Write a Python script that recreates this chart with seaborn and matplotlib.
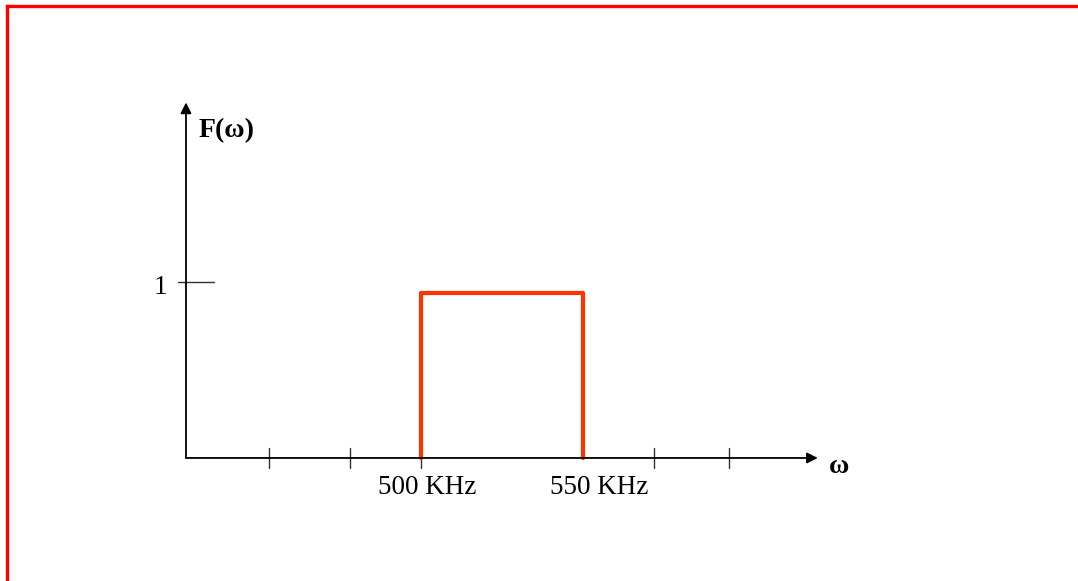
import matplotlib
matplotlib.use("Agg")
import matplotlib.pyplot as plt
import seaborn as sns
import pandas as pd
from matplotlib.lines import Line2D

sns.set_theme(style="white")
plt.rcParams['font.family'] = ['Liberation Serif', 'DejaVu Serif']
plt.rcParams['text.color'] = 'black'

# ---- data (frequency in kHz, amplitude) ----
band_edges = [500, 550]          # passband edges, kHz
band_amplitude = 0.94            # height of the passband
tick_freqs = [453, 478, 500, 572, 595]   # visible x-axis tick marks, kHz
tick_labels = {500: "500 KHz", 550: "550 KHz"}
label_offsets = {500: 2, 550: 5}
y_tick_value = 1
y_label = "F(ω)"
x_label = "ω"

# axis extents (data units)
x_origin, x_end = 427.5, 622.5
y_top = 2.02

df = pd.DataFrame({
    "freq": [band_edges[0], band_edges[0], band_edges[1], band_edges[1]],
    "amp": [0, band_amplitude, band_amplitude, 0],
})

fig = plt.figure(figsize=(10.78, 5.81), dpi=100)
ax = fig.add_axes([0, 0, 1, 1])
ax.set_xlim(370.1, 702.8)
ax.set_ylim(-0.699, 2.602)
ax.axis("off")

# axes with arrows
ax.annotate("", xy=(x_end, 0), xytext=(x_origin, 0),
            arrowprops=dict(arrowstyle="-|>", color="black", lw=1.3,
                            mutation_scale=16, shrinkA=0, shrinkB=0))
ax.annotate("", xy=(x_origin, y_top), xytext=(x_origin, 0),
            arrowprops=dict(arrowstyle="-|>", color="black", lw=1.3,
                            mutation_scale=16, shrinkA=0, shrinkB=0))

# x ticks
for f in tick_freqs:
    ax.plot([f, f], [-0.057, 0.057], color="#333333", lw=1.0)
# y tick
ax.plot([x_origin - 2.5, x_origin + 8.6], [y_tick_value, y_tick_value], color="#333333", lw=1.0)

# passband
sns.lineplot(data=df, x="freq", y="amp", sort=False, color="#FF3300",
             lw=3, ax=ax, estimator=None)
ax.axis("off")

# labels
for f, lab in tick_labels.items():
    ax.text(f + label_offsets[f], -0.165, lab, ha="center", va="center",
            fontsize=19.5, color="black")
ax.text(x_origin - 8, y_tick_value - 0.03, str(y_tick_value), ha="center", va="center",
        fontsize=19.5, color="black")
ax.text(x_origin + 3.8, 1.86, y_label, ha="left", va="center", fontsize=20,
        fontweight="bold", color="black")
ax.text(x_origin + 201.5, -0.05, x_label, ha="center", va="center", fontsize=20,
        fontweight="bold", color="black")

# red frame (left and top)
fig.add_artist(Line2D([7 / 1078, 7 / 1078], [0, 1 - 6 / 581], color="red", lw=2.4,
                      transform=fig.transFigure, solid_capstyle="projecting"))
fig.add_artist(Line2D([7 / 1078, 1], [1 - 6 / 581, 1 - 6 / 581], color="red", lw=2.4,
                      transform=fig.transFigure, solid_capstyle="projecting"))

fig.savefig("out.png", dpi=100)
